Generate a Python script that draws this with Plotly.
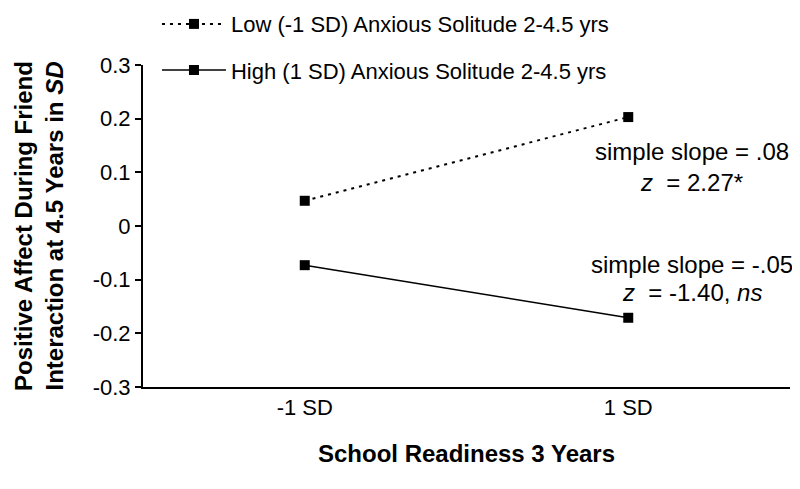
import plotly.graph_objects as go

categories = ["-1 SD", "1 SD"]
cat_pos = [0, 1]
low_values = [0.047, 0.203]
high_values = [-0.073, -0.171]
low_name = "Low (-1 SD) Anxious Solitude 2-4.5 yrs"
high_name = "High (1 SD) Anxious Solitude 2-4.5 yrs"
y_ticks = [0.3, 0.2, 0.1, 0, -0.1, -0.2, -0.3]
y_ticktext = ["0.3", "0.2", "0.1", "0", "-0.1", "-0.2", "-0.3"]
boundaries = [-0.5, 0.5, 1.5]

FONT = "Liberation Sans, Arial, sans-serif"
fig = go.Figure()
fig.add_trace(go.Scatter(
    x=cat_pos, y=low_values, name=low_name, mode="lines+markers",
    line=dict(color="black", width=2, dash="3px,5px"),
    marker=dict(symbol="square", size=10, color="black"),
    legend="legend", showlegend=True,
))
fig.add_trace(go.Scatter(
    x=cat_pos, y=high_values, name=high_name, mode="lines+markers",
    line=dict(color="black", width=1.6),
    marker=dict(symbol="square", size=10, color="black"),
    legend="legend2", showlegend=True,
))

axis_common = dict(range=[-0.5, 1.5], showgrid=False, zeroline=False, automargin=False)
fig.update_layout(
    width=792, height=481,
    showlegend=True,
    margin=dict(l=135, r=10, t=57, b=102, autoexpand=False),
    paper_bgcolor="white", plot_bgcolor="white",
    font=dict(family=FONT, size=22, color="black"),
    xaxis=dict(
        **axis_common,
        tickmode="array", tickvals=cat_pos, ticktext=categories,
        ticks="", showline=True, linecolor="black", linewidth=2,
        tickfont=dict(size=22),
        title=dict(text="<b>School Readiness 3 Years</b>", font=dict(size=24), standoff=26),
    ),
    xaxis2=dict(
        **axis_common, overlaying="x", anchor="y", side="bottom",
        tickmode="array", tickvals=boundaries, showticklabels=False,
        ticks="outside", ticklen=7, tickwidth=2, tickcolor="black", showline=False,
    ),
    xaxis3=dict(
        **axis_common, overlaying="x", anchor="y", side="bottom",
        tickmode="array", tickvals=boundaries, showticklabels=False,
        ticks="inside", ticklen=7, tickwidth=2, tickcolor="black", showline=False,
    ),
    yaxis=dict(
        range=[-0.3, 0.3], tickmode="array", tickvals=y_ticks, ticktext=y_ticktext,
        ticks="outside", ticklen=6, tickwidth=2, tickcolor="black",
        showline=True, linecolor="black", linewidth=2, automargin=False,
        showgrid=False, zeroline=False, tickfont=dict(size=22),
        title=dict(text="<b>Positive Affect During Friend<br>Interaction at 4.5 Years in <i>SD</i></b>",
                   font=dict(size=24), standoff=22),
    ),
    legend=dict(x=0.0216, y=1.127, xanchor="left", yanchor="middle", visible=True,
                bgcolor="rgba(0,0,0,0)", itemwidth=64, font=dict(size=22)),
    legend2=dict(x=0.0216, y=0.984, xanchor="left", yanchor="middle", visible=True,
                 bgcolor="rgba(0,0,0,0)", itemwidth=64, font=dict(size=22)),
)

notes = [
    ("simple slope = .08", 0.730),
    ("<i>z</i>  = 2.27*", 0.636),
    ("simple slope = -.05", 0.379),
    ("<i>z</i>  = -1.40, <i>ns</i>", 0.292),
]
for text, yp in notes:
    fig.add_annotation(x=0.848, y=yp, xref="paper", yref="paper", text=text,
                       showarrow=False, font=dict(size=24), xanchor="center", yanchor="middle")

fig.write_html("out.html")
